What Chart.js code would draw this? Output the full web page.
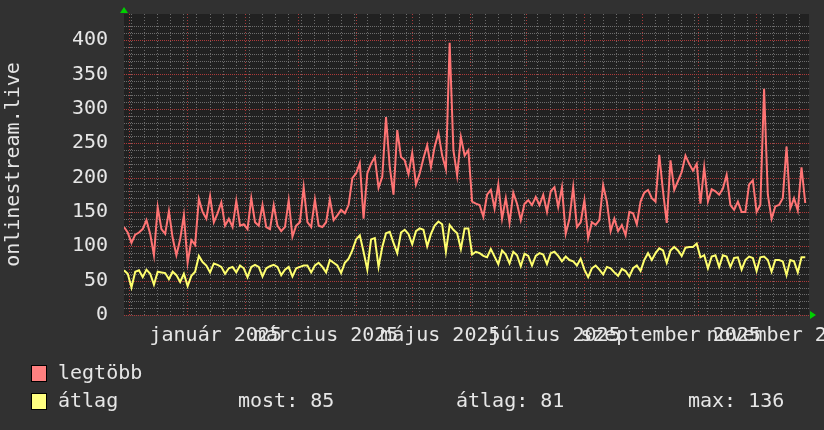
<!DOCTYPE html>
<html>
<head>
<meta charset="utf-8">
<script src="https://cdn.jsdelivr.net/npm/chart.js@4.4.1/dist/chart.umd.min.js"></script>
<style>
    html, body { margin: 0; padding: 0; background: #313131; }
    #wrap { width: 824px; height: 430px; }
</style>
</head>
<body>
<div id="wrap"><canvas id="chart" width="824" height="430"></canvas></div>
<script>
// egy pont = 2 nap, a 0. nap 2024. nov. 28.
const STEP_DAYS = 2;
const SPAN_DAYS = 366;

const seriesNames = ['legtöbb', 'átlag'];

const maxValues = [
    128, 120, 105, 117, 120, 125, 138, 118, 87, 157,
    125, 118, 151, 112, 87, 110, 145, 76, 109, 102,
    169, 150, 140, 173, 135, 148, 164, 130, 140, 128,
    166, 130, 132, 125, 170, 135, 130, 160, 128, 125,
    160, 130, 122, 128, 167, 114, 130, 135, 186, 135,
    128, 168, 130, 128, 135, 168, 138, 145, 153, 148,
    160, 199, 206, 221, 140, 206, 220, 230, 185, 201,
    288, 215, 175, 269, 230, 225, 205, 236, 190, 206,
    228, 247, 215, 245, 265, 232, 212, 396, 240, 203,
    259, 232, 240, 165, 162, 160, 143, 175, 182, 155,
    190, 140, 170, 134, 178, 162, 138, 162, 167, 160,
    172, 160, 175, 150, 180, 186, 157, 186, 118, 140,
    186, 128, 135, 167, 112, 135, 131, 138, 189, 165,
    122, 140, 122, 131, 116, 150, 148, 132, 165, 178,
    182, 170, 165, 233, 180, 134, 225, 182, 195, 208,
    232, 220, 210, 220, 162, 215, 165, 183, 180, 175,
    184, 204, 160, 153, 165, 150, 150, 190, 196, 150,
    160, 329, 175, 140, 158, 160, 170, 245, 155, 170,
    152, 215, 163
];

const avgValues = [
    65, 60, 40, 63, 65, 55, 66, 60, 44, 63,
    62, 61, 52, 63, 58, 48, 60, 42, 57, 63,
    86, 77, 72, 62, 75, 73, 70, 60, 68, 70,
    62, 72, 68, 55, 70, 73, 70, 56, 68, 71,
    73, 70, 58, 66, 70, 56, 68, 70, 72, 72,
    62, 72, 76, 70, 62, 80, 76, 72, 61, 76,
    82, 94, 110, 116, 92, 66, 110, 112, 70, 99,
    119, 121, 105, 90, 120, 124, 118, 103, 122, 126,
    124, 100, 118, 130, 136, 132, 92, 131, 124, 119,
    96, 126, 126, 88, 92, 90, 86, 84, 96, 85,
    74, 94, 88, 75, 92, 87, 71, 89, 86, 72,
    86, 90, 88, 74, 90, 92, 86, 78, 85, 80,
    78, 72, 82, 66, 55, 68, 72, 66, 59, 70,
    68, 62, 57, 67, 64, 56, 68, 72, 64, 80,
    90, 80, 90, 97, 94, 76, 94, 99, 94, 86,
    98, 99, 99, 104, 84, 87, 68, 85, 87, 70,
    87, 85, 70, 83, 84, 66, 80, 85, 83, 64,
    84, 85, 80, 63, 80, 80, 78, 58, 80, 78,
    62, 84, 84
];

// rács: hónapkezdetek (piros) és hétfők (szürke), napokban
const monthStartDays = [3, 34, 65, 93, 124, 154, 185, 215, 246, 277, 307, 338];
const firstMondayDay = 4;

// feliratok a hónap közepén
const labelDays = [49, 108, 169, 230, 292, 353];
const labelTexts = ['január 2025', 'március 2025', 'május 2025', 'július 2025', 'szeptember 2025', 'november 2025'];

const yTickValues = [0, 50, 100, 150, 200, 250, 300, 350, 400];
const Y_MAX = 438;
const Y_MINOR_STEP = 10;

const statLabels = ['most', 'átlag', 'max'];
const statValues = [85, 81, 136];

const FONT = '"DejaVu Sans Mono", monospace';
const TEXT_COLOR = '#e6e6e6';
const MINOR_GRID = '#6c6c6c';
const MAJOR_GRID = '#ac3a3a';
const LINE_RED = '#ff7474';
const LINE_YELLOW = '#ffff6e';

// x tengely tick lista: rácsvonalak + felirat pozíciók
const mondayDays = [];
for (let d = firstMondayDay; d <= SPAN_DAYS; d += 7) mondayDays.push(d);
const xTickDays = Array.from(new Set([...monthStartDays, ...mondayDays, ...labelDays])).sort((a, b) => a - b);

const toPoints = values => values.map((v, i) => ({ x: i * STEP_DAYS, y: v }));

const rrdFrame = {
    id: 'rrdFrame',
    beforeDraw(chart) {
        const { ctx, chartArea } = chart;
        ctx.save();
        ctx.fillStyle = '#313131';
        ctx.fillRect(0, 0, chart.width, chart.height);
        ctx.fillStyle = '#212121';
        ctx.fillRect(chartArea.left, chartArea.top, chartArea.right - chartArea.left, chartArea.bottom - chartArea.top);
        ctx.restore();
    },
    beforeDatasetsDraw(chart) {
        // vízszintes pontozott rács az y skála tickjeiből
        const { ctx, chartArea } = chart;
        const yScale = chart.scales.y;
        ctx.save();
        yScale.ticks.forEach(t => {
            if (t.value > 430) return;
            const py = Math.round(yScale.getPixelForValue(t.value));
            ctx.fillStyle = yTickValues.includes(t.value) ? MAJOR_GRID : MINOR_GRID;
            for (let px = Math.round(chartArea.left); px < chartArea.right; px += 2) {
                ctx.fillRect(px, py, 1, 1);
            }
        });
        ctx.restore();
    },
    afterDraw(chart) {
        const { ctx, chartArea } = chart;
        ctx.save();
        // zöld nyilak a tengelyek végén
        ctx.fillStyle = '#00d000';
        ctx.beginPath();
        ctx.moveTo(chartArea.left - 4, chartArea.top - 1);
        ctx.lineTo(chartArea.left + 4, chartArea.top - 1);
        ctx.lineTo(chartArea.left, chartArea.top - 7);
        ctx.fill();
        ctx.beginPath();
        ctx.moveTo(chartArea.right + 1, chartArea.bottom - 4);
        ctx.lineTo(chartArea.right + 1, chartArea.bottom + 4);
        ctx.lineTo(chartArea.right + 7, chartArea.bottom);
        ctx.fill();

        // jelmagyarázat
        const swatches = ['#ff8080', '#ffff80'];
        const rows = [374, 402];
        ctx.font = '20px ' + FONT;
        ctx.textBaseline = 'middle';
        ctx.textAlign = 'left';
        seriesNames.forEach((name, i) => {
            ctx.fillStyle = swatches[i];
            ctx.fillRect(32, rows[i] - 8, 14, 15);
            ctx.strokeStyle = '#000';
            ctx.lineWidth = 1;
            ctx.strokeRect(31.5, rows[i] - 8.5, 15, 16);
            ctx.fillStyle = TEXT_COLOR;
            ctx.fillText(name, 58, rows[i]);
        });
        const statX = [238, 456, 688];
        statLabels.forEach((lab, i) => {
            ctx.fillText(lab + ': ' + statValues[i], statX[i], rows[1]);
        });
        ctx.restore();
    }
};

new Chart(document.getElementById('chart'), {
    type: 'line',
    data: {
        datasets: [
            {
                label: seriesNames[0],
                data: toPoints(maxValues),
                borderColor: LINE_RED,
                borderWidth: 2,
                pointRadius: 0,
                tension: 0
            },
            {
                label: seriesNames[1],
                data: toPoints(avgValues),
                borderColor: LINE_YELLOW,
                borderWidth: 2,
                pointRadius: 0,
                tension: 0
            }
        ]
    },
    options: {
        responsive: false,
        animation: false,
        devicePixelRatio: 1,
        layout: { padding: { top: 14, right: 15, bottom: 0, left: 0 } },
        plugins: {
            legend: { display: false },
            tooltip: { enabled: false }
        },
        scales: {
            x: {
                type: 'linear',
                min: 0,
                max: SPAN_DAYS,
                afterBuildTicks(scale) {
                    scale.ticks = xTickDays.map(d => ({ value: d }));
                },
                afterFit(scale) {
                    scale.height = 115;
                    scale.paddingLeft = 0;
                    scale.paddingRight = 0;
                },
                grid: {
                    drawTicks: false,
                    color(ctx) {
                        const v = ctx.tick && ctx.tick.value;
                        if (monthStartDays.includes(v)) return MAJOR_GRID;
                        if (mondayDays.includes(v)) return MINOR_GRID;
                        return 'rgba(0,0,0,0)';
                    }
                },
                border: { display: false, dash: [1, 2] },
                ticks: {
                    autoSkip: false,
                    maxRotation: 0,
                    minRotation: 0,
                    padding: 9,
                    color: TEXT_COLOR,
                    font: { family: FONT, size: 20 },
                    callback(value) {
                        const k = labelDays.indexOf(value);
                        return k >= 0 ? labelTexts[k] : '';
                    }
                }
            },
            y: {
                type: 'linear',
                min: 0,
                max: Y_MAX,
                ticks: {
                    stepSize: Y_MINOR_STEP,
                    autoSkip: false,
                    padding: 16,
                    color: TEXT_COLOR,
                    font: { family: FONT, size: 20 },
                    callback(value) {
                        return yTickValues.includes(value) ? String(value) : '';
                    }
                },
                afterFit(scale) {
                    scale.width = 124;
                    scale.paddingTop = 0;
                    scale.paddingBottom = 0;
                },
                grid: {
                    drawOnChartArea: false,
                    drawTicks: false
                },
                border: { display: false },
                title: {
                    display: true,
                    text: 'onlinestream.live',
                    color: TEXT_COLOR,
                    font: { family: FONT, size: 20 },
                    padding: { top: 2, bottom: 0 }
                }
            }
        }
    },
    plugins: [rrdFrame]
});
</script>
</body>
</html>
